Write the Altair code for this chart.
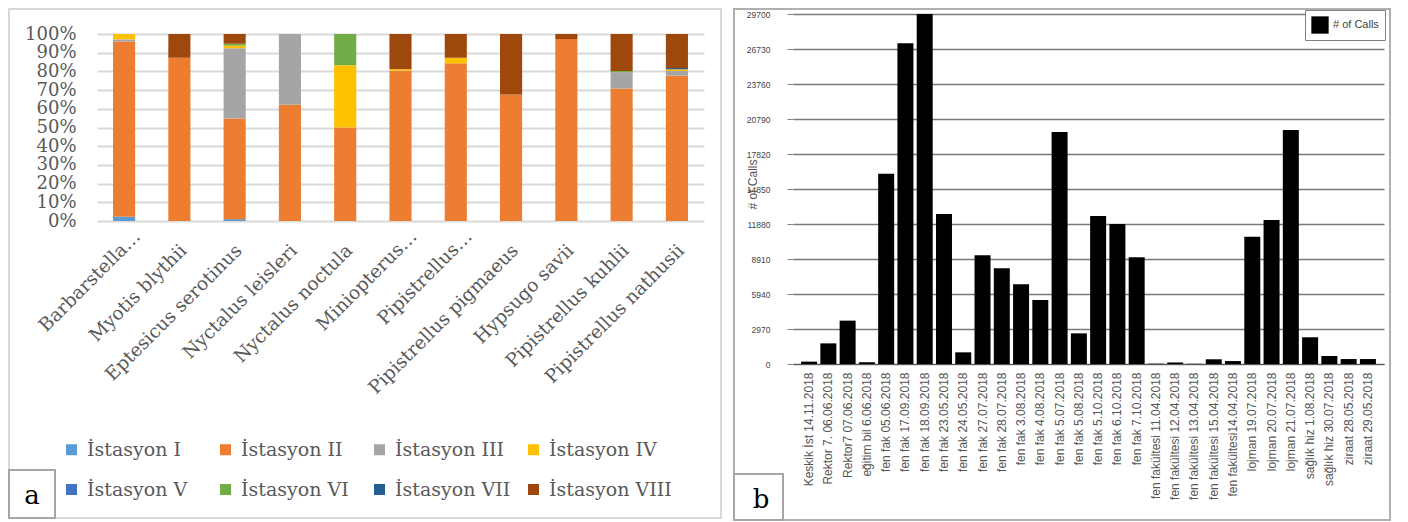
import altair as alt
import pandas as pd

# ---------------- Panel a data ----------------
species = ["Barbarstella…", "Myotis blythii", "Eptesicus serotinus", "Nyctalus leisleri",
           "Nyctalus noctula", "Miniopterus…", "Pipistrellus…", "Pipistrellus pigmaeus",
           "Hypsugo savii", "Pipistrellus kuhlii", "Pipistrellus nathusii"]
stations = ["İstasyon I", "İstasyon II", "İstasyon III", "İstasyon IV",
            "İstasyon V", "İstasyon VI", "İstasyon VII", "İstasyon VIII"]
st_I    = [2.3, 0, 1.0, 0, 0, 0, 0, 0, 0, 0, 0]
st_II   = [93.7, 87.3, 53.8, 62.2, 50.0, 80.4, 84.3, 67.7, 97.3, 70.9, 77.7]
st_III  = [1.1, 0, 37.6, 37.8, 0, 0, 0, 0, 0, 8.7, 2.5]
st_IV   = [2.9, 0, 1.4, 0, 33.3, 0.8, 3.0, 0, 0, 0, 0.9]
st_V    = [0, 0, 0, 0, 0, 0, 0, 0, 0, 0, 0]
st_VI   = [0, 0, 1.0, 0, 16.7, 0, 0, 0, 0, 0.6, 0]
st_VII  = [0, 0, 0, 0, 0, 0, 0, 0, 0, 0, 0.7]
st_VIII = [0, 12.7, 5.2, 0, 0, 18.8, 12.7, 32.3, 2.7, 19.8, 18.2]
station_colors = ["#5B9BD5", "#ED7D31", "#A5A5A5", "#FFC000",
                  "#4472C4", "#70AD47", "#255E91", "#9E480E"]

# ---------------- Panel b data ----------------
sites = ["Keskik İst 14.11.2018", "Rektor 7. 06.06.2018", "Rektor7 07.06.2018",
         "eğitim bil 6.06.2018", "fen fak 05.06.2018", "fen fak 17.09.2018",
         "fen fak 18.09.2018", "fen fak 23.05.2018", "fen fak 24.05.2018",
         "fen fak 27.07.2018", "fen fak 28.07.2018", "fen fak 3.08.2018",
         "fen fak 4.08.2018", "fen fak 5.07.2018", "fen fak 5.08.2018",
         "fen fak 5.10.2018", "fen fak 6.10.2018", "fen fak 7.10.2018",
         "fen fakültesi 11.04.2018", "fen fakültesi 12.04.2018",
         "fen fakültesi 13.04.2018", "fen fakültesi 15.04.2018",
         "fen fakültesi14.04.2018", "lojman 19.07.2018", "lojman 20.07.2018",
         "lojman 21.07.2018", "sağlık hiz 1.08.2018", "sağlık hiz 30.07.2018",
         "ziraat 28.05.2018", "ziraat 29.05.2018"]
calls = [200, 1750, 3680, 150, 16150, 27210, 29700, 12730, 990, 9220,
         8120, 6760, 5430, 19690, 2600, 12560, 11880, 9050, 30, 130,
         20, 400, 250, 10800, 12220, 19860, 2260, 680, 420, 420]
call_ticks = [0, 2970, 5940, 8910, 11880, 14850, 17820, 20790, 23760, 26730, 29700]

# ---------------- build tables ----------------
cols = [st_I, st_II, st_III, st_IV, st_V, st_VI, st_VII, st_VIII]
rows = []
for si, (st, vals) in enumerate(zip(stations, cols)):
    for sp, v in zip(species, vals):
        rows.append({"species": sp, "station": st, "sidx": si, "pct": v})
df_a = pd.DataFrame(rows)
df_b = pd.DataFrame({"site": sites, "calls": calls, "series": "# of Calls"})
dummy = pd.DataFrame({"k": [0]})

SERIF = "DejaVu Serif"
SANS = "Liberation Sans"
GREY = "#595959"

# ---------------- Panel a ----------------
is_ell = "indexof(datum.value, '…') >= 0"
bars_a = alt.Chart(df_a).transform_filter("datum.pct > 0").mark_bar().encode(
    x=alt.X("species:N", sort=species,
            scale=alt.Scale(paddingInner=0.6, paddingOuter=0.29),
            axis=alt.Axis(title=None, labelAngle=-45, labelAlign="right",
                          labelBaseline="middle", labelFont=SERIF, labelFontSize=18.5,
                          labelColor=GREY, ticks=False, domain=False, grid=False,
                          labelLimit=400,
                          labelOffset={"condition": {"test": is_ell, "value": 13}, "value": 4},
                          labelPadding={"condition": {"test": is_ell, "value": 12}, "value": 26})),
    y=alt.Y("pct:Q", stack="normalize", scale=alt.Scale(domain=[0, 1], range=[207, 20]),
            axis=alt.Axis(title=None, format="%", values=[i / 10 for i in range(11)],
                          labelFont=SERIF, labelFontSize=18, labelColor=GREY,
                          ticks=False, domain=False, gridColor="#d9d9d9", gridWidth=2,
                          labelPadding=21)),
    color=alt.Color("station:N", scale=alt.Scale(domain=stations, range=station_colors),
                    legend=alt.Legend(title=None, orient="none", legendX=-35, legendY=426,
                                      direction="horizontal", columns=4, gridAlign="all",
                                      symbolType="square", symbolSize=121, symbolStrokeWidth=0,
                                      labelFont=SERIF, labelFontSize=19, labelColor=GREY,
                                      columnPadding=6, rowPadding=20, labelOffset=6)),
    order=alt.Order("sidx:Q", sort="ascending"),
)

frame_a = alt.Chart(dummy).mark_rect(fillOpacity=0, stroke="#d9d9d9", strokeWidth=2).encode(
    x=alt.value(-88), x2=alt.value(624), y=alt.value(-5), y2=alt.value(504))
box_a = alt.Chart(dummy).mark_rect(fill="white", stroke="#a6a6a6", strokeWidth=2).encode(
    x=alt.value(-88), x2=alt.value(-42), y=alt.value(456), y2=alt.value(504))
txt_a = alt.Chart(dummy).mark_text(font=SERIF, fontSize=26, color="black",
                                   baseline="middle", align="center").encode(
    x=alt.value(-65), y=alt.value(482), text=alt.value("a"))

panel_a = alt.layer(frame_a, bars_a, box_a, txt_a).properties(width=607, height=207)

# ---------------- Panel b ----------------
bars_b = alt.Chart(df_b).mark_bar().encode(
    x=alt.X("site:N", sort=sites,
            scale=alt.Scale(paddingInner=0.17, paddingOuter=0.42),
            axis=alt.Axis(title=None, labelAngle=-90, labelAlign="right",
                          labelBaseline="middle", labelFont=SANS, labelFontSize=12,
                          labelColor="#555555", ticks=False, domain=True,
                          domainColor="#555555", domainWidth=1.2, labelPadding=8,
                          grid=False, labelLimit=300)),
    y=alt.Y("calls:Q", scale=alt.Scale(domain=[0, 29700], nice=False),
            axis=alt.Axis(title="# of Calls", values=call_ticks, format="d",
                          labelFont=SANS, labelFontSize=8.5, labelColor="#444444",
                          tickSize=6, tickColor="#808080", domain=False,
                          gridColor="#7a7a7a", gridWidth=1.3, labelPadding=17,
                          titleFont=SANS, titleFontSize=12, titleFontWeight="normal",
                          titleColor="#555555", titleX=-41, titleY=170,
                          titleAlign="center", titleBaseline="middle")),
    color=alt.Color("series:N", scale=alt.Scale(domain=["# of Calls"], range=["black"]),
                    legend=alt.Legend(title=None, orient="none", legendX=512, legendY=-4,
                                      symbolType="square", symbolSize=300,
                                      symbolStrokeWidth=0, labelFont=SANS,
                                      labelFontSize=11, labelColor="#444444",
                                      strokeColor="#808080", fillColor="white",
                                      padding=6, labelOffset=4)),
)

frame_b = alt.Chart(dummy).mark_rect(fillOpacity=0, stroke="#b0b0b0", strokeWidth=2).encode(
    x=alt.value(-59), x2=alt.value(597), y=alt.value(-5), y2=alt.value(506))
box_b = alt.Chart(dummy).mark_rect(fill="white", stroke="#a6a6a6", strokeWidth=2).encode(
    x=alt.value(-59), x2=alt.value(-10), y=alt.value(460), y2=alt.value(506))
txt_b = alt.Chart(dummy).mark_text(font=SERIF, fontSize=26, color="black",
                                   baseline="middle", align="center").encode(
    x=alt.value(-32), y=alt.value(486), text=alt.value("b"))

panel_b = alt.layer(frame_b, bars_b, box_b, txt_b).properties(width=591, height=350)

chart = alt.hconcat(panel_a, panel_b, spacing=11).resolve_scale(
    color="independent", x="independent", y="independent"
).properties(padding=0, background="white").configure_view(stroke=None)

chart.save("out.html", embed_options={"renderer": "svg", "actions": False})
